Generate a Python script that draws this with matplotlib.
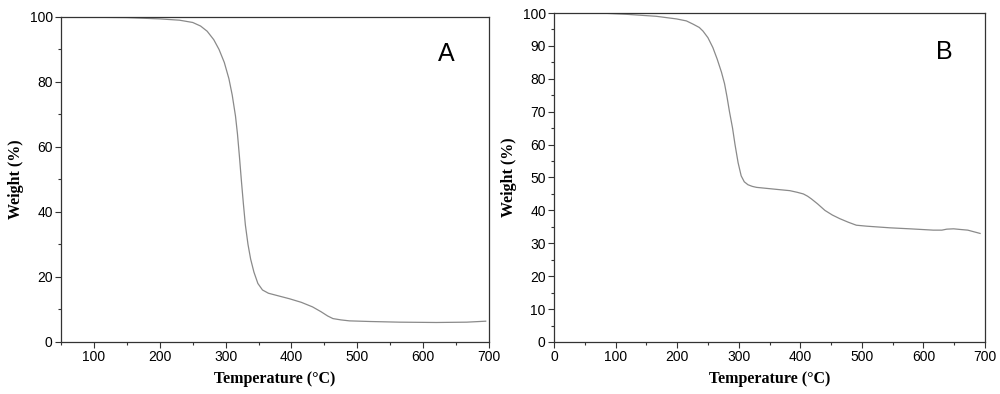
import numpy as np
import matplotlib.pyplot as plt
from matplotlib.ticker import MultipleLocator

# TGA curve A (temperature in C, weight %)
temp_a = [50, 100, 150, 200, 230, 250, 262, 272, 282, 290, 298, 305, 310, 315, 318,
          321, 324, 327, 330, 334, 338, 343, 349, 356, 365, 380, 397, 415, 432,
          445, 455, 463, 475, 488, 520, 564, 620, 666, 695]
weight_a = [100, 99.9, 99.8, 99.4, 99.0, 98.3, 97.2, 95.6, 93.0, 90.0, 86.0, 81.0,
            76.0, 69.5, 64.0, 57.0, 49.5, 42.5, 36.0, 30.0, 25.5, 21.5, 18.0, 16.0,
            15.0, 14.2, 13.3, 12.2, 10.8, 9.3, 8.0, 7.2, 6.8, 6.5, 6.3, 6.1, 6.0,
            6.1, 6.4]

# TGA curve B
temp_b = [74, 118, 166, 199, 215, 226, 236, 242, 250, 258, 265, 272, 277, 281, 285,
          290, 294, 299, 304, 309, 315, 322, 329, 345, 361, 383, 395, 405, 412,
          418, 428, 440, 452, 464, 478, 491, 508, 546, 578, 616, 630, 638, 649,
          660, 672, 692]
weight_b = [100, 99.6, 99.0, 98.2, 97.6, 96.6, 95.6, 94.5, 92.5, 89.5, 86.0, 82.0,
            78.5, 74.5, 70.0, 65.0, 60.0, 54.5, 50.5, 48.7, 47.8, 47.3, 47.0, 46.7,
            46.4, 46.0, 45.5, 45.0, 44.3, 43.5, 42.0, 40.0, 38.6, 37.5, 36.4, 35.5,
            35.2, 34.7, 34.4, 34.0, 34.0, 34.3, 34.4, 34.2, 34.0, 33.0]

plt.rcParams['font.family'] = 'Liberation Sans'
plt.rcParams['font.size'] = 10

fig = plt.figure(figsize=(10, 3.94), dpi=100)
ax_a = fig.add_axes([0.061, 0.132, 0.428, 0.825])
ax_b = fig.add_axes([0.554, 0.132, 0.431, 0.835])

label_font = dict(family='Liberation Serif', fontweight='bold', fontsize=11.5)

for ax in (ax_a, ax_b):
    for s in ax.spines.values():
        s.set_linewidth(0.9)
        s.set_color('#333333')
    ax.tick_params(which='both', direction='out', top=False, right=False, color='#333333')
    ax.tick_params(which='major', length=4, width=0.8, pad=2)
    ax.tick_params(which='minor', length=2.5, width=0.8)
    ax.xaxis.set_major_locator(MultipleLocator(100))
    ax.xaxis.set_minor_locator(MultipleLocator(50))
    ax.set_xlabel('Temperature (°C)', **label_font, labelpad=5)
    ax.set_ylabel('Weight (%)', **label_font, labelpad=4)

# panel A
ax_a.plot(temp_a, weight_a, color='#8a8a8a', lw=0.9)
ax_a.set_xlim(50, 700)
ax_a.set_ylim(0, 100)
ax_a.yaxis.set_major_locator(MultipleLocator(20))
ax_a.yaxis.set_minor_locator(MultipleLocator(10))
ax_a.text(0.9, 0.886, 'A', transform=ax_a.transAxes, fontsize=18, ha='center', va='center')

# panel B
ax_b.plot(temp_b, weight_b, color='#8a8a8a', lw=0.9)
ax_b.set_xlim(0, 700)
ax_b.set_ylim(0, 100)
ax_b.yaxis.set_major_locator(MultipleLocator(10))
ax_b.yaxis.set_minor_locator(MultipleLocator(5))
ax_b.text(0.905, 0.882, 'B', transform=ax_b.transAxes, fontsize=18, ha='center', va='center')

fig.savefig('out.png', dpi=100)
